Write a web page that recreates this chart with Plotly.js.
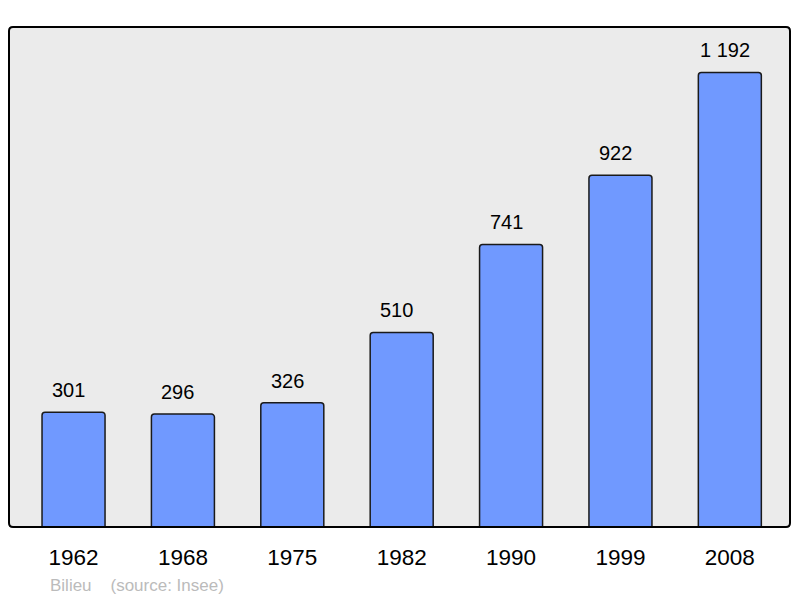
<!DOCTYPE html>
<html>
<head>
<meta charset="utf-8">
<script src="https://cdn.plot.ly/plotly-3.0.1.min.js"></script>
<style>html,body{margin:0;padding:0;background:#fff;}#chart{width:800px;height:598px;}</style>
</head>
<body>
<div id="chart"></div>
<script>
const years = ['1962', '1968', '1975', '1982', '1990', '1999', '2008'];
const population = [301, 296, 326, 510, 741, 922, 1192];
const valueLabels = ['301', '296', '326', '510', '741', '922', '1 192'];
const sourceText = 'Bilieu\u00a0\u00a0\u00a0\u00a0(source: Insee)';

const fontFam = '"Liberation Sans", Arial, sans-serif';

const rx = 4 / 781, ry = 4 / 500;
const borderPath = `M ${rx},0 L ${1 - rx},0 Q 1,0 1,${ry} L 1,${1 - ry} Q 1,1 ${1 - rx},1 L ${rx},1 Q 0,1 0,${1 - ry} L 0,${ry} Q 0,0 ${rx},0 Z`;

const trace = {
  type: 'bar',
  x: years,
  y: population,
  width: 0.576,
  marker: { color: '#7099ff', line: { color: '#1a1a1a', width: 1.5 }, cornerradius: 3 },
  hoverinfo: 'none'
};

const annotations = years.map((yr, i) => ({
  x: i, y: population[i], xref: 'x', yref: 'y',
  text: valueLabels[i], showarrow: false,
  yanchor: 'bottom', yshift: 9, xshift: -5,
  font: { family: fontFam, size: 20, color: '#000' }
}));
annotations.push({
  xref: 'paper', yref: 'paper', x: (48 - 9) / 781, y: (527 - 585) / 500,
  xanchor: 'left', yanchor: 'middle', showarrow: false,
  text: sourceText,
  font: { family: fontFam, size: 17, color: '#bbbbbb' }
});

const layout = {
  width: 800, height: 598,
  margin: { l: 9, r: 10, t: 27, b: 71, pad: 0 },
  paper_bgcolor: '#ffffff',
  plot_bgcolor: '#ebebeb',
  showlegend: false,
  font: { family: fontFam },
  xaxis: {
    type: 'category', range: [-0.59, 6.55],
    showgrid: false, zeroline: false, showline: false, ticks: '',
    tickfont: { family: fontFam, size: 22.5, color: '#000' },
    ticklabelstandoff: 14
  },
  yaxis: {
    range: [0, 1311], showgrid: false, zeroline: false, showline: false,
    showticklabels: false, ticks: ''
  },
  shapes: [{
    type: 'path', xref: 'paper', yref: 'paper', path: borderPath,
    line: { color: '#000', width: 2 }, fillcolor: 'rgba(0,0,0,0)'
  }],
  annotations: annotations
};

Plotly.newPlot('chart', [trace], layout, { staticPlot: true, displayModeBar: false });
</script>
</body>
</html>
